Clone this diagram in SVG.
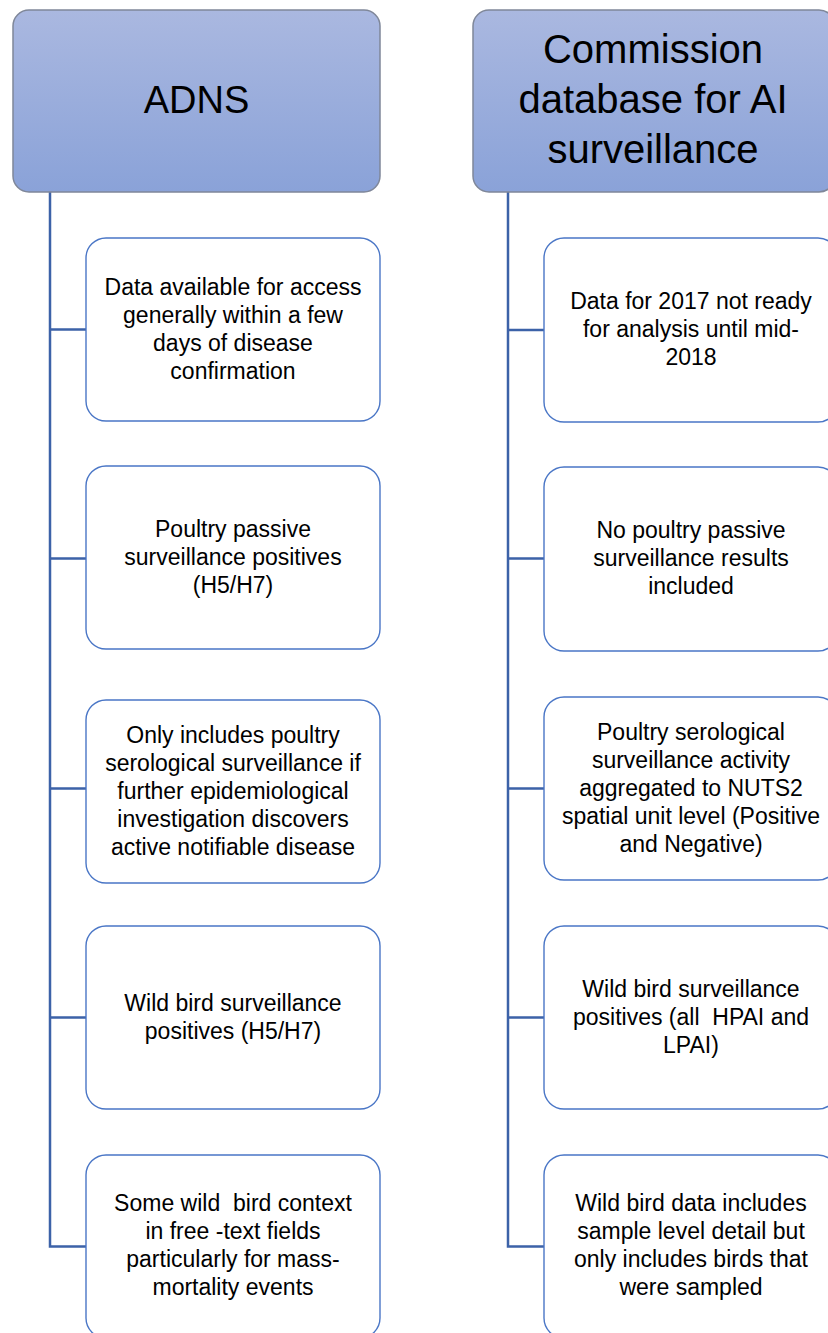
<svg xmlns="http://www.w3.org/2000/svg" width="828" height="1333" viewBox="0 0 828 1333">
<style>
.hdr{stroke:#7f8799;stroke-width:1.5;fill:url(#hg)}
.box{fill:#ffffff;stroke:#4a76c6;stroke-width:1.4}
.ht{font-family:"Liberation Sans",Arial,sans-serif;fill:#000;text-anchor:middle}
.bt{font-family:"Liberation Sans",Arial,sans-serif;font-size:23px;fill:#000;text-anchor:middle;white-space:pre}
.cn{fill:none;stroke:#3c62a8;stroke-width:2.5}
</style>
<defs>
<linearGradient id="hg" x1="0" y1="0" x2="0" y2="1">
<stop offset="0" stop-color="#aab8e0"/>
<stop offset="1" stop-color="#8aa2d8"/>
</linearGradient>
</defs>
<rect width="828" height="1333" fill="#ffffff"/>
<g id="connectors">
<path class="cn" d="M50,192 V1246.5 H86"/>
<path class="cn" d="M50,329.5 H86 M50,558.5 H86 M50,788.5 H86 M50,1017.5 H86"/>
<path class="cn" d="M508,192 V1246.5 H544"/>
<path class="cn" d="M508,330 H544 M508,558.5 H544 M508,788.5 H544 M508,1017.5 H544"/>
</g>
<g id="hdr-adns">
<rect class="hdr" x="13" y="10" width="367" height="182" rx="16"/>
<text class="ht" x="196.5" y="113" font-size="38">ADNS</text>
</g>
<g id="hdr-commission">
<rect class="hdr" x="473" y="10" width="362" height="182" rx="16"/>
<text class="ht" x="653" y="63" font-size="40">Commission</text>
<text class="ht" x="653" y="113" font-size="40">database for AI</text>
<text class="ht" x="653" y="163" font-size="40">surveillance</text>
</g>
<g id="l1">
<rect class="box" x="86" y="238" width="294" height="183" rx="20"/>
<text class="bt" x="233" y="295">Data available for access</text>
<text class="bt" x="233" y="323">generally within a few</text>
<text class="bt" x="233" y="351">days of disease</text>
<text class="bt" x="233" y="379">confirmation</text>
</g>
<g id="l2">
<rect class="box" x="86" y="466" width="294" height="183" rx="20"/>
<text class="bt" x="233" y="537">Poultry passive</text>
<text class="bt" x="233" y="565">surveillance positives</text>
<text class="bt" x="233" y="593">(H5/H7)</text>
</g>
<g id="l3">
<rect class="box" x="86" y="700" width="294" height="183" rx="20"/>
<text class="bt" x="233" y="743">Only includes poultry</text>
<text class="bt" x="233" y="771">serological surveillance if</text>
<text class="bt" x="233" y="799">further epidemiological</text>
<text class="bt" x="233" y="827">investigation discovers</text>
<text class="bt" x="233" y="855">active notifiable disease</text>
</g>
<g id="l4">
<rect class="box" x="86" y="926" width="294" height="183" rx="20"/>
<text class="bt" x="233" y="1011">Wild bird surveillance</text>
<text class="bt" x="233" y="1039">positives (H5/H7)</text>
</g>
<g id="l5">
<rect class="box" x="86" y="1155" width="294" height="183" rx="20"/>
<text class="bt" x="233" y="1211">Some wild  bird context</text>
<text class="bt" x="233" y="1239">in free -text fields</text>
<text class="bt" x="233" y="1267">particularly for mass-</text>
<text class="bt" x="233" y="1295">mortality events</text>
</g>
<g id="r1">
<rect class="box" x="544" y="238" width="294" height="184" rx="20"/>
<text class="bt" x="691" y="309">Data for 2017 not ready</text>
<text class="bt" x="691" y="337">for analysis until mid-</text>
<text class="bt" x="691" y="365">2018</text>
</g>
<g id="r2">
<rect class="box" x="544" y="467" width="294" height="184" rx="20"/>
<text class="bt" x="691" y="538">No poultry passive</text>
<text class="bt" x="691" y="566">surveillance results</text>
<text class="bt" x="691" y="594">included</text>
</g>
<g id="r3">
<rect class="box" x="544" y="697" width="294" height="183" rx="20"/>
<text class="bt" x="691" y="740">Poultry serological</text>
<text class="bt" x="691" y="768">surveillance activity</text>
<text class="bt" x="691" y="796">aggregated to NUTS2</text>
<text class="bt" x="691" y="824">spatial unit level (Positive</text>
<text class="bt" x="691" y="852">and Negative)</text>
</g>
<g id="r4">
<rect class="box" x="544" y="926" width="294" height="183" rx="20"/>
<text class="bt" x="691" y="997">Wild bird surveillance</text>
<text class="bt" x="691" y="1025">positives (all  HPAI and</text>
<text class="bt" x="691" y="1053">LPAI)</text>
</g>
<g id="r5">
<rect class="box" x="544" y="1155" width="294" height="183" rx="20"/>
<text class="bt" x="691" y="1211">Wild bird data includes</text>
<text class="bt" x="691" y="1239">sample level detail but</text>
<text class="bt" x="691" y="1267">only includes birds that</text>
<text class="bt" x="691" y="1295">were sampled</text>
</g>
</svg>
